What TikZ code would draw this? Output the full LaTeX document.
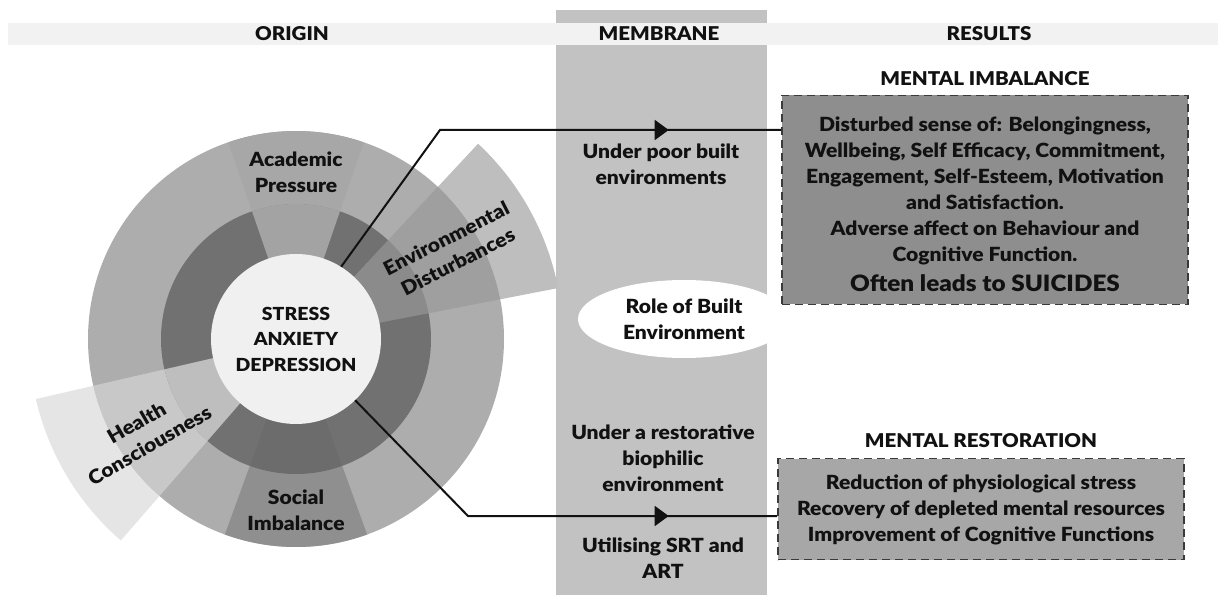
\documentclass[tikz,border=0pt]{standalone}
\usepackage{fontspec}
\setmainfont{Lato}[BoldFont={Lato Black}, BoldFeatures={FakeStretch=1.08}]
\usetikzlibrary{arrows.meta,positioning,calc,shapes.geometric}
\definecolor{ink}{HTML}{111111}
\definecolor{band}{HTML}{F2F2F2}
\definecolor{memb}{HTML}{C2C2C2}
\definecolor{ringout}{HTML}{ADADAD}
\definecolor{ringmid}{HTML}{717171}
\definecolor{corefill}{HTML}{F0F0F0}
\definecolor{acadout}{HTML}{A7A7A7}
\definecolor{acadmid}{HTML}{A3A3A3}
\definecolor{socout}{HTML}{8F8F8F}
\definecolor{socmid}{HTML}{6C6C6C}
\definecolor{envfar}{HTML}{BEBEBE}
\definecolor{envout}{HTML}{9F9F9F}
\definecolor{envmid}{HTML}{8B8B8B}
\definecolor{hlthfar}{HTML}{E5E5E5}
\definecolor{hlthout}{HTML}{C8C8C8}
\definecolor{hlthmid}{HTML}{BEBEBE}
\definecolor{imbfill}{HTML}{8E8E8E}
\definecolor{restfill}{HTML}{A7A7A7}
\definecolor{boxline}{HTML}{3A3A3A}

\begin{document}
\begin{tikzpicture}[x=1pt, y=1pt,
  font=\bfseries\fontsize{19.5}{26}\selectfont, text=ink, >={Triangle[length=14pt, width=20pt]},
  head/.style={font=\bfseries\fontsize{19}{24}\selectfont, inner sep=0pt},
  lbl/.style={align=center, inner sep=0pt},
  wheel/.style={lbl, font=\bfseries\fontsize{19.5}{26}\selectfont},
  res/.style={draw=boxline, line width=1.8pt, dash pattern=on 8pt off 5pt, minimum width=406pt, inner sep=0pt},
  link/.style={draw=ink, line width=2pt}]
\useasboundingbox (0,0) rectangle (1218,595);
% columns and header band
\node[fill=memb, minimum width=211pt, minimum height=585pt, inner sep=0pt, anchor=south west] (memb) at (556,0) {};
\fill[band] (8,550) rectangle (1218,572);
\node[head] (origin) at (292,561) {ORIGIN};
\node[head] (membt) at (659,561) {MEMBRANE};
\node[head] (resul) at (989,561) {RESULTS};
% origin wheel
\coordinate (ctr) at (296,256);
\fill[ringout] (ctr) circle[radius=208pt];
\fill[ringmid] (ctr) circle[radius=135pt];
\foreach \a/\b/\ri/\ro/\c in {11/47/208/267/envfar, 11/47/135/208/envout, 11/47/1/135/envmid,
    193/229/208/267/hlthfar, 193/229/135/208/hlthout, 193/229/1/135/hlthmid,
    71/109/135/208/acadout, 71/109/1/135/acadmid,
    250/290/135/208/socout, 250/290/1/135/socmid}
  \fill[\c] ($(ctr)+(\a:\ri pt)$) arc[start angle=\a, end angle=\b, radius=\ri pt]
    -- ($(ctr)+(\b:\ro pt)$) arc[start angle=\b, end angle=\a, radius=\ro pt] -- cycle;
\node[circle, fill=corefill, minimum size=170pt, inner sep=0pt, align=center, font=\bfseries\fontsize{18}{25.5}\selectfont] (core) at (ctr) {STRESS\\ANXIETY\\DEPRESSION};
\node[wheel] (acad) at (296,423) {Academic\\Pressure};
\node[wheel] (soc) at (296,85) {Social\\Imbalance};
\node[wheel, rotate=27] (env) at (452,345) {Environmental\\Disturbances};
\node[wheel, rotate=30] (hlth) at (143,161) {Health\\Consciousness};
% membrane
\node[lbl] (poor) at (661,431) {Under poor built\\environments};
\node[ellipse, fill=white, minimum width=212pt, minimum height=78pt, inner sep=0pt, align=center] (role) at (684,276) {Role of Built\\Environment};
\node[lbl] (bio) at (663,137) {Under a restorative\\biophilic\\environment};
\node[lbl] (srt) at (663,37) {Utilising SRT and\\ART};
% results
\node[res, fill=imbfill, minimum height=209pt] (imb) at (985,395) {};
\node[lbl] (imbtxt) at ($(imb.center)+(0,-4)$) {Disturbed sense of: Belongingness,\\Wellbeing, Self Efficacy, Commitment,\\Engagement, Self-Esteem, Motivation\\and Satisfaction.\\Adverse affect on Behaviour and\\Cognitive Function.\\[4pt]{\fontsize{22.5}{30}\selectfont Often leads to SUICIDES}};
\node[head, above=9pt of imb] (imbt) {MENTAL IMBALANCE};
\node[res, fill=restfill, minimum height=101pt] (rest) at (981,86) {};
\node[lbl] (resttxt) at ($(rest.center)+(0,-1)$) {Reduction of physiological stress\\Recovery of depleted mental resources\\Improvement of Cognitive Functions};
\node[head, above=10pt of rest] (restt) {MENTAL RESTORATION};
% connectors
\coordinate (k1) at (440,465);
\coordinate (k2) at (468,79);
\draw[link] (core.58) -- (k1) -- (k1 -| imb.west);
\draw[link, ->] (k1) -- ($(memb.center |- k1)+(7,0)$);
\draw[link] (core.-46) -- (k2) -- (k2 -| rest.west);
\draw[link, ->] (k2) -- ($(memb.center |- k2)+(7,0)$);
\end{tikzpicture}
\end{document}
